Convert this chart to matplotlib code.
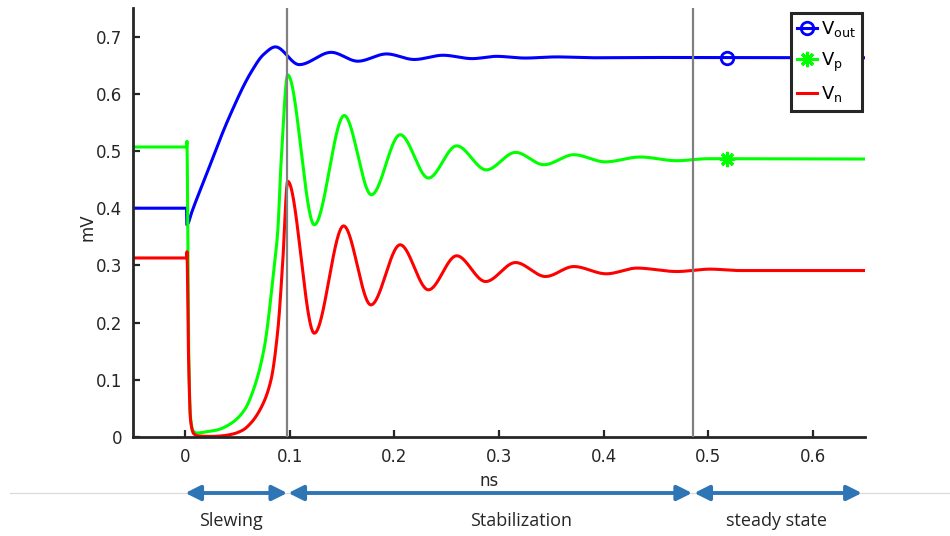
import numpy as np
import matplotlib
matplotlib.use("Agg")
import matplotlib.pyplot as plt
import matplotlib.transforms as mtransforms
from matplotlib.lines import Line2D

plt.rcParams['font.family'] = ['DejaVu Sans']
plt.rcParams['mathtext.default'] = 'regular'

# sampled waveforms (ns, mV)
t_out = [-0.05, 0.0012, 0.0015, 0.0025, 0.006, 0.02, 0.041, 0.063, 0.075, 0.0862,
         0.109, 0.1395, 0.165, 0.1925, 0.219, 0.2465, 0.2745, 0.2975, 0.325, 0.355,
         0.39, 0.45, 0.65]
v_out = [0.400, 0.400, 0.371, 0.373, 0.392, 0.458, 0.555, 0.638, 0.669, 0.682,
         0.651, 0.6725, 0.657, 0.6697, 0.660, 0.6674, 0.6615, 0.6655, 0.6625, 0.6645,
         0.663, 0.6635, 0.663]

t_p = [-0.05, 0.0012, 0.0016, 0.0025, 0.0035, 0.005, 0.007, 0.011, 0.02, 0.03,
       0.044, 0.0565, 0.0662, 0.0757, 0.0837, 0.0885, 0.0916, 0.098, 0.1234, 0.152,
       0.178, 0.2055, 0.2325, 0.2595, 0.2879, 0.3158, 0.343, 0.3715, 0.4017, 0.435,
       0.470, 0.50, 0.65]
v_p = [0.507, 0.507, 0.517, 0.33, 0.12, 0.035, 0.012, 0.007, 0.009, 0.012,
       0.024, 0.047, 0.088, 0.158, 0.275, 0.362, 0.48, 0.633, 0.371, 0.562,
       0.4235, 0.5285, 0.4527, 0.509, 0.467, 0.4976, 0.476, 0.4935, 0.481, 0.4895,
       0.483, 0.4865, 0.486]

t_n = [-0.05, 0.0012, 0.0016, 0.003, 0.005, 0.008, 0.012, 0.025, 0.035, 0.045,
       0.055, 0.063, 0.073, 0.082, 0.0885, 0.093, 0.098, 0.1234, 0.1514, 0.1775,
       0.2055, 0.2325, 0.2595, 0.2872, 0.3158, 0.3445, 0.3715, 0.4027, 0.432, 0.470,
       0.502, 0.53, 0.65]
v_n = [0.313, 0.313, 0.324, 0.15, 0.03, 0.006, 0.002, 0.001, 0.002, 0.005,
       0.012, 0.025, 0.053, 0.10, 0.187, 0.30, 0.447, 0.1815, 0.369, 0.231,
       0.336, 0.2573, 0.3168, 0.2718, 0.305, 0.2806, 0.298, 0.2853, 0.2953, 0.2893,
       0.2935, 0.291, 0.291]

marker_t = 0.518
phase_edges = [0.0975, 0.4857]
phase_names = ["Slewing", "Stabilization", "steady state"]


def mono_cubic(x, y, xn):
    # Fritsch-Carlson monotone cubic through the samples
    x = np.asarray(x, float)
    y = np.asarray(y, float)
    h = np.diff(x)
    d = np.diff(y) / h
    m = np.zeros_like(y)
    for k in range(1, len(y) - 1):
        if d[k - 1] * d[k] > 0:
            w1 = 2 * h[k] + h[k - 1]
            w2 = h[k] + 2 * h[k - 1]
            m[k] = (w1 + w2) / (w1 / d[k - 1] + w2 / d[k])
    i = np.clip(np.searchsorted(x, xn) - 1, 0, len(h) - 1)
    s = (xn - x[i]) / h[i]
    h00 = 2 * s**3 - 3 * s**2 + 1
    h10 = s**3 - 2 * s**2 + s
    h01 = -2 * s**3 + 3 * s**2
    h11 = s**3 - s**2
    return h00 * y[i] + h10 * h[i] * m[i] + h01 * y[i + 1] + h11 * h[i] * m[i + 1]


tt = np.union1d(np.linspace(-0.05, 0.65, 5000), np.r_[t_out, t_p, t_n])
yo = mono_cubic(t_out, v_out, tt)
yp = mono_cubic(t_p, v_p, tt)
yn = mono_cubic(t_n, v_n, tt)
mk = [int(np.argmin(np.abs(tt - marker_t)))]

W, H = 950, 536
fig = plt.figure(figsize=(9.5, 5.36), dpi=100)
ax = fig.add_axes([133 / W, (H - 437) / H, (865 - 133) / W, (437 - 8) / H])

lw = 2.2
ax.plot(tt, yo, color=(0, 0, 1), lw=lw, marker='o', markevery=mk, ms=9,
        mfc='none', mew=2, label=r'V$_{out}$')
ax.plot(tt, yp, color=(0, 1, 0), lw=lw, marker=(8, 2, 0), markevery=mk, ms=11,
        mew=2.2, label=r'V$_{p}$')
ax.plot(tt, yn, color=(1, 0, 0), lw=lw, label=r'V$_{n}$')

for xe in phase_edges:
    ax.axvline(xe, color='#808080', lw=1.6, zorder=5)

ax.set_xlim(-0.05, 0.65)
ax.set_ylim(0, 0.75)
ax.set_xticks([0, 0.1, 0.2, 0.3, 0.4, 0.5, 0.6])
ax.set_xticklabels(["0", "0.1", "0.2", "0.3", "0.4", "0.5", "0.6"])
ax.set_yticks([0, 0.1, 0.2, 0.3, 0.4, 0.5, 0.6, 0.7])
ax.set_yticklabels(["0", "0.1", "0.2", "0.3", "0.4", "0.5", "0.6", "0.7"])
for side in ('top', 'right'):
    ax.spines[side].set_visible(False)
for side in ('left', 'bottom'):
    ax.spines[side].set_linewidth(2.0)
    ax.spines[side].set_color('#262626')
ax.tick_params(direction='in', length=5, width=1.6, color='#262626',
               labelsize=12, labelcolor='#262626', pad=8)
ax.set_xlabel('ns', fontsize=12, color='#262626')
ax.set_ylabel('mV', fontsize=12, color='#262626')
ax.xaxis.set_label_coords(0.4867, (437 - 481) / 429)
ax.yaxis.set_label_coords((88 - 133) / 732, 0.49)
ax.xaxis.label.set_va('center')
ax.yaxis.label.set_va('center')

leg = ax.legend(loc='upper right', bbox_to_anchor=(0.996, 0.988), borderaxespad=0,
                fancybox=False, framealpha=1, edgecolor='#262626', fontsize=13,
                handlelength=1.1, handletextpad=0.2, labelspacing=0.6,
                borderpad=0.35, numpoints=1)
leg.get_frame().set_linewidth(2.2)
leg.set_zorder(10)

# phase arrows under the time axis
ytr = mtransforms.blended_transform_factory(ax.transData, fig.transFigure)
y_arrow = (H - 493) / H
fig.add_artist(Line2D([10 / W, 1.0], [y_arrow, y_arrow], color='#d9d9d9', lw=0.8,
                      transform=fig.transFigure, zorder=-1))
spans = [(0.0, phase_edges[0]), (phase_edges[0] + 0.001, phase_edges[1] - 0.001),
         (phase_edges[1] + 0.001, 0.647)]
for a, b in spans:
    ax.annotate('', xy=(b, y_arrow), xytext=(a, y_arrow), xycoords=ytr,
                textcoords=ytr, annotation_clip=False,
                arrowprops=dict(arrowstyle='<|-|>,head_length=0.9,head_width=0.45',
                                color='#2e75b6', lw=2.8, shrinkA=0, shrinkB=0))
for name, xc in zip(phase_names, [231, 521, 777]):
    fig.text(xc / W, (H - 521) / H, name, ha='center', va='center',
             fontsize=13, family=['Open Sans', 'DejaVu Sans'], color='#262626')

fig.savefig('out.png', dpi=100)
